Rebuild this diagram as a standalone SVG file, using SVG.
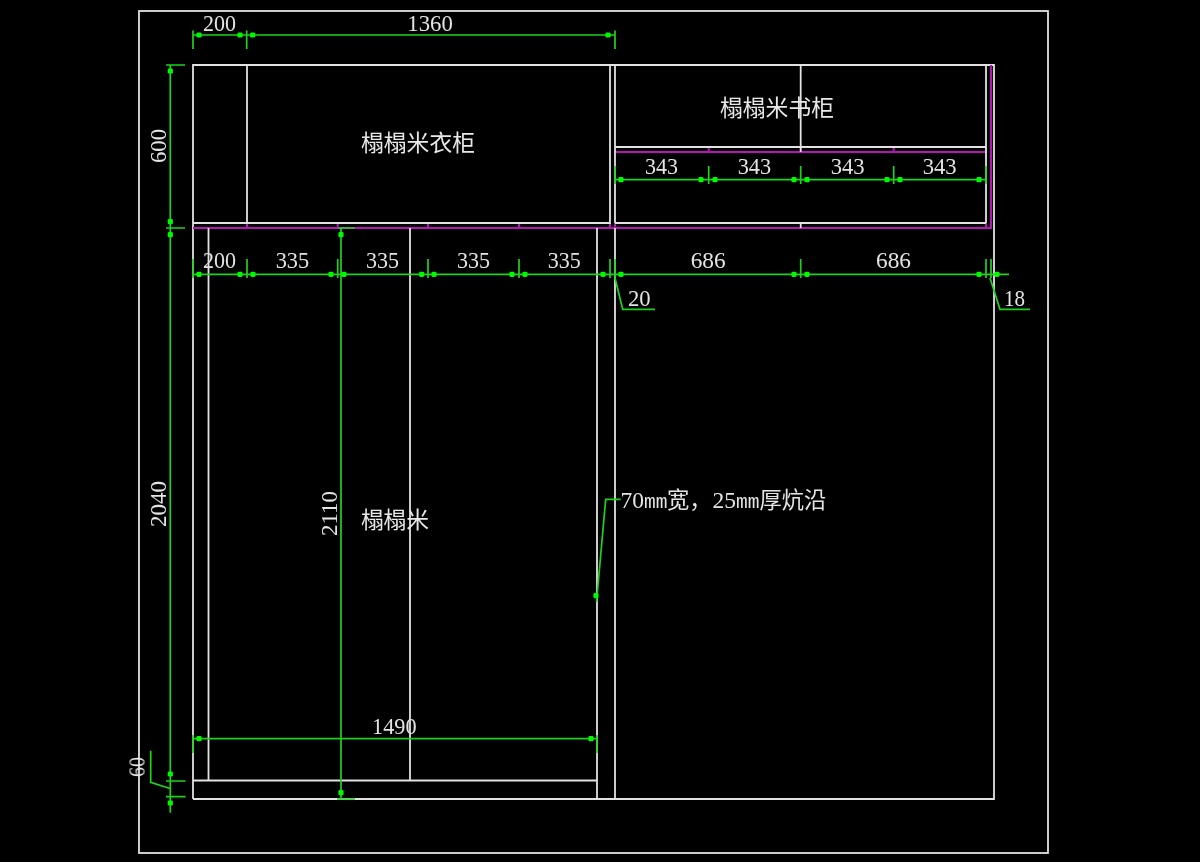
<svg xmlns="http://www.w3.org/2000/svg" width="1200" height="862" viewBox="0 0 1200 862">
<style>
.w{stroke:#e2e2e2;stroke-width:1.8;fill:none}
.m{stroke:#b418b4;stroke-width:2;fill:none}
.g{stroke:#1ed21e;stroke-width:1.7;fill:none}
.d{fill:#00f800}
.t{fill:#e4e4e4;font-family:"Liberation Serif",serif;font-size:23.500px}
.c{fill:#e8e8e8;font-family:"Noto Sans CJK SC",sans-serif;font-size:22.800px}
.l{fill:#e4e4e4;font-family:"Liberation Serif","Noto Sans CJK SC",serif;font-size:23.500px}
.n{font-family:"Liberation Mono",monospace;font-size:19.500px}
.k{font-family:"Noto Sans CJK SC",sans-serif;font-size:22.300px}
</style>
<defs>
<rect id="p" x="-2.600" y="-2.600" width="5.200" height="5.200" rx="1.400" class="d"/>
<filter id="soft" filterUnits="userSpaceOnUse" x="0" y="0" width="1200" height="862"><feGaussianBlur stdDeviation="0.4"/></filter>
</defs>
<rect width="1200" height="862" fill="#000"/>
<g filter="url(#soft)">
<g id="frame"><rect x="139" y="11" width="909" height="842" class="w"/></g>
<g id="outline">
<path class="w" d="M193 799V65H994V799H193"/>
<path class="m" d="M193 228H991V65M986 147V152H615"/>
<path class="m" d="M708.700 147V152M800.700 147V152M893.700 147V152M247 223V228M337.700 223V228M428 223V228M519 223V228M610 223V228M615 223V228M986 223V228"/>
</g>
<g id="wardrobe">
<path class="w" d="M193 223H610V65M247 65V223"/>
</g>
<g id="bookcase">
<path class="w" d="M615 147H986M615 223H986M986 65V223M800.700 65V147M800.700 147V152M800.700 223V228"/>
</g>
<g id="tatami">
<path class="w" d="M208.500 228V780.500M410 228V780.500M597 228V799M615 228V799M615 65V223M193 780.500H597"/>
</g>
<g id="connectors">
<path class="g" d="M193 35H615M193 30.500V49M246.700 30.500V49M615 30.500V49"/>
<path class="g" d="M193 274.300H1009M193 259V278M247 259V278M337.700 259V278M428 259V278M519 259V278M610 259V278M615 259V278M800.700 259V278M986 259V278M991 259V278"/>
<path class="g" d="M615 179.700H986M615 166V184M708.700 166V184M800.700 166V184M893.700 166V184M986 166V184"/>
<path class="g" d="M170.300 65V812.700M166 65H185M166 228H185M166 781H185.500M166 796.700H185.500"/>
<path class="g" d="M341 228V799M338 228H355M337 799H355"/>
<path class="g" d="M193 738.700H597M193 735V753M597 735V753"/>
<path class="g" d="M150.700 750.700V782.300L170 788.500"/>
<path class="g" d="M596.500 602L605.700 499.300H620.700"/>
<path class="g" d="M615 278L622.700 309.300H655"/>
<path class="g" d="M990 278L1000 309.300H1030"/>
<g id="dots">
<use href="#p" x="199" y="35"/><use href="#p" x="240" y="35"/><use href="#p" x="252.700" y="35"/><use href="#p" x="608" y="35"/>
<use href="#p" x="199" y="274.300"/><use href="#p" x="240" y="274.300"/><use href="#p" x="253" y="274.300"/><use href="#p" x="331" y="274.300"/><use href="#p" x="344" y="274.300"/><use href="#p" x="421.700" y="274.300"/><use href="#p" x="434" y="274.300"/><use href="#p" x="512" y="274.300"/><use href="#p" x="525" y="274.300"/><use href="#p" x="603" y="274.300"/><use href="#p" x="621" y="274.300"/><use href="#p" x="794" y="274.300"/><use href="#p" x="807" y="274.300"/><use href="#p" x="979" y="274.300"/><use href="#p" x="997" y="274.300"/>
<use href="#p" x="621" y="179.700"/><use href="#p" x="701" y="179.700"/><use href="#p" x="715" y="179.700"/><use href="#p" x="794" y="179.700"/><use href="#p" x="807" y="179.700"/><use href="#p" x="887" y="179.700"/><use href="#p" x="900" y="179.700"/><use href="#p" x="979" y="179.700"/>
<use href="#p" x="170.300" y="71"/><use href="#p" x="170.300" y="221.700"/><use href="#p" x="170.300" y="234.700"/><use href="#p" x="170.300" y="774"/><use href="#p" x="170.300" y="803"/>
<use href="#p" x="341" y="234.700"/><use href="#p" x="341" y="792.700"/>
<use href="#p" x="199" y="738.700"/><use href="#p" x="591" y="738.700"/>
<use href="#p" x="596" y="595.700"/>
</g>
</g>
<g id="labels">
<text class="t" x="203" y="30.700" textLength="33" lengthAdjust="spacingAndGlyphs">200</text>
<text class="t" x="407.300" y="30.700" textLength="45.500" lengthAdjust="spacingAndGlyphs">1360</text>
<text class="t" x="203" y="268.300" textLength="33" lengthAdjust="spacingAndGlyphs">200</text>
<text class="t" x="275.700" y="268.300" textLength="33.500" lengthAdjust="spacingAndGlyphs">335</text>
<text class="t" x="366" y="268.300" textLength="33" lengthAdjust="spacingAndGlyphs">335</text>
<text class="t" x="457" y="268.300" textLength="33" lengthAdjust="spacingAndGlyphs">335</text>
<text class="t" x="547.700" y="268.300" textLength="33" lengthAdjust="spacingAndGlyphs">335</text>
<text class="t" x="645" y="174" textLength="33" lengthAdjust="spacingAndGlyphs">343</text>
<text class="t" x="737.700" y="174" textLength="33.500" lengthAdjust="spacingAndGlyphs">343</text>
<text class="t" x="830.700" y="174" textLength="34" lengthAdjust="spacingAndGlyphs">343</text>
<text class="t" x="922.700" y="174" textLength="34" lengthAdjust="spacingAndGlyphs">343</text>
<text class="t" x="690.700" y="268.300" textLength="35" lengthAdjust="spacingAndGlyphs">686</text>
<text class="t" x="876" y="268.300" textLength="35" lengthAdjust="spacingAndGlyphs">686</text>
<text class="t" x="628" y="306" textLength="22.700" lengthAdjust="spacingAndGlyphs">20</text>
<text class="t" x="1004" y="306" textLength="21" lengthAdjust="spacingAndGlyphs">18</text>
<text class="t" x="372" y="734" textLength="44.500" lengthAdjust="spacingAndGlyphs">1490</text>
<text class="t" transform="translate(165.500 163) rotate(-90)" textLength="34" lengthAdjust="spacingAndGlyphs">600</text>
<text class="t" transform="translate(165.500 527) rotate(-90)" textLength="46" lengthAdjust="spacingAndGlyphs">2040</text>
<text class="t" transform="translate(336.500 536) rotate(-90)" textLength="45" lengthAdjust="spacingAndGlyphs">2110</text>
<text class="t" transform="translate(144.500 777) rotate(-90)" textLength="20" lengthAdjust="spacingAndGlyphs">60</text>
<text class="c" x="361" y="151" textLength="114">榻榻米衣柜</text>
<text class="c" x="720" y="116" textLength="114">榻榻米书柜</text>
<text class="c" x="361" y="528" textLength="68">榻榻米</text>
<text class="l" y="508"><tspan x="620.500">70</tspan><tspan class="n" x="644">mm</tspan><tspan class="k" x="667">宽，</tspan><tspan x="712.500">25</tspan><tspan class="n" x="736">mm</tspan><tspan class="k" x="759.500">厚炕沿</tspan></text>
</g>
</g>
</svg>
